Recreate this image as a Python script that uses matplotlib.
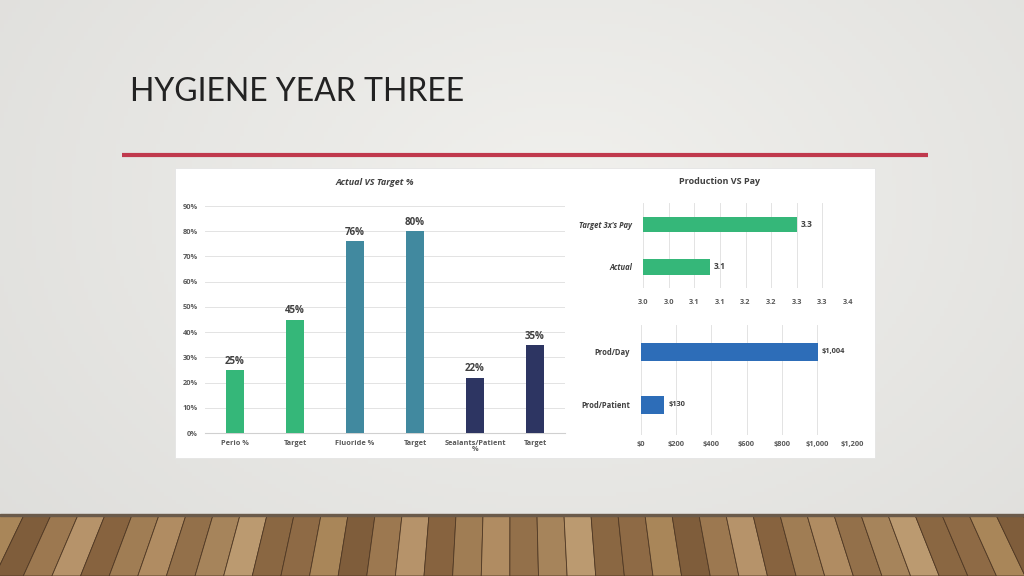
import numpy as np
import matplotlib.pyplot as plt
from matplotlib.patches import Rectangle, Polygon

plt.rcParams['font.family'] = ['Open Sans', 'DejaVu Sans']

# Data
pct_labels = ['Perio %', 'Target', 'Fluoride %', 'Target', 'Sealants/Patient\n%', 'Target']
pct_values = [0.25, 0.45, 0.76, 0.80, 0.22, 0.35]
pct_colors = ['#35b779', '#35b779', '#41899f', '#41899f', '#2d3562', '#2d3562']
pct_ticks = [0, 0.1, 0.2, 0.3, 0.4, 0.5, 0.6, 0.7, 0.8, 0.9]

pay_labels = ['Actual', "Target 3x's Pay"]
pay_values = [3.13, 3.30]
pay_text = ['3.1', '3.3']
pay_ticks = [3.0, 3.05, 3.1, 3.15, 3.2, 3.25, 3.3, 3.35, 3.4]
pay_tick_labels = ['3.0', '3.0', '3.1', '3.1', '3.2', '3.2', '3.3', '3.3', '3.4']

prod_labels = ['Prod/Patient', 'Prod/Day']
prod_values = [130, 1004]
prod_ticks = [0, 200, 400, 600, 800, 1000, 1200]

W, H = 1024, 576
fig = plt.figure(figsize=(10.24, 5.76), dpi=100)

# slide background
bg = fig.add_axes([0, 0, 1, 1])
bg.set_xlim(0, W)
bg.set_ylim(H, 0)
bg.axis('off')
yy, xx = np.mgrid[0:H:4, 0:W:4]
r = np.sqrt(((xx - 560) / 700.0) ** 2 + ((yy - 200) / 500.0) ** 2)
shade = np.clip(0.945 - 0.07 * r, 0.85, 0.95)
img = np.dstack([shade, shade * 0.998, shade * 0.985])
bg.imshow(img, extent=[0, W, H, 0], aspect='auto', zorder=0)

# wooden floor
floor_top = 515
bg.add_patch(Rectangle((0, floor_top), W, H - floor_top, color='#8f6b47', zorder=1))
plank_cols = ['#8e6a45', '#a98659', '#7f5d3b', '#9c7850', '#b6936a', '#87633f',
              '#a07d54', '#b08c62', '#93704a', '#a6845b', '#bb9a70', '#8a6742']
vy = -500.0
k = (H - vy) / (floor_top - vy)
edges = list(range(-30, W + 40, 27))
for i in range(len(edges) - 1):
    x0, x1 = edges[i], edges[i + 1]
    b0 = 512 + (x0 - 512) * k
    b1 = 512 + (x1 - 512) * k
    bg.add_patch(Polygon([(x0, floor_top), (x1, floor_top), (b1, H), (b0, H)],
                         closed=True, facecolor=plank_cols[i % len(plank_cols)],
                         edgecolor='#503925', linewidth=0.6, zorder=2))
bg.add_patch(Rectangle((0, floor_top - 1), W, 2, color='#6a5a4a', zorder=3))

# title + red rule
bg.text(130, 101, 'HYGIENE YEAR THREE', fontsize=23, color='#222222',
        family=['Lato', 'DejaVu Sans'], ha='left', va='baseline', zorder=5)
bg.plot([122, 928], [155, 155], color='#c0394d', linewidth=3, solid_capstyle='butt', zorder=5)

# white panel
bg.add_patch(Rectangle((175, 168), 700, 290, facecolor='white', edgecolor='#e4e4e4',
                       linewidth=0.6, zorder=4))

grid_c = '#e3e3e3'
tick_c = '#595959'
lab_c = '#404040'

# left chart
ax1 = fig.add_axes([205 / W, 1 - 433 / H, 360 / W, 227 / H])
x = np.arange(len(pct_values))
ax1.bar(x, pct_values, width=0.3, color=pct_colors, zorder=3)
for xi, v in zip(x, pct_values):
    ax1.text(xi, v + 0.012, f'{v:.0%}', ha='center', va='bottom',
             fontsize=7, fontweight='bold', color=lab_c)
ax1.set_xlim(-0.5, len(pct_values) - 0.5)
ax1.set_ylim(0, 0.9)
ax1.set_yticks(pct_ticks)
ax1.set_yticklabels([f'{t:.0%}' for t in pct_ticks])
ax1.set_xticks(x)
ax1.set_xticklabels(pct_labels, linespacing=0.9)
ax1.yaxis.grid(True, color=grid_c, linewidth=0.7, zorder=0)
for s in ['top', 'right', 'left']:
    ax1.spines[s].set_visible(False)
ax1.spines['bottom'].set_color('#d0d0d0')
ax1.tick_params(length=0, labelsize=5.3, labelcolor=tick_c, pad=5)
for t in ax1.get_xticklabels() + ax1.get_yticklabels():
    t.set_fontweight('bold')
ax1.set_facecolor('none')
fig.text(375 / W, 1 - 183 / H, 'Actual VS Target %', ha='center', va='center',
         fontsize=6.5, fontweight='bold', style='italic', color=lab_c)

# production vs pay
ax2 = fig.add_axes([643 / W, 1 - 288 / H, 205 / W, 85 / H])
y2 = np.arange(len(pay_values))
ax2.barh(y2, [v - pay_ticks[0] for v in pay_values], left=pay_ticks[0],
         height=0.36, color='#35b779', zorder=3)
for yi, v, t in zip(y2, pay_values, pay_text):
    ax2.text(v + 0.008, yi, t, ha='left', va='center', fontsize=6,
             fontweight='bold', color=lab_c)
ax2.set_xlim(pay_ticks[0], pay_ticks[-1])
ax2.set_ylim(-0.5, 1.52)
ax2.set_xticks(pay_ticks)
ax2.set_xticklabels(pay_tick_labels)
ax2.set_yticks(y2)
ax2.set_yticklabels(pay_labels)
ax2.xaxis.grid(True, color=grid_c, linewidth=0.7, zorder=0)
for s in ax2.spines.values():
    s.set_visible(False)
ax2.tick_params(length=0, labelsize=5.3, labelcolor=tick_c, pad=8)
ax2.tick_params(axis='y', pad=8, labelsize=5.5)
for t in ax2.get_xticklabels():
    t.set_fontweight('bold')
for t in ax2.get_yticklabels():
    t.set_fontweight('bold')
    t.set_style('italic')
    t.set_color(lab_c)
ax2.set_facecolor('none')
fig.text(720 / W, 1 - 182 / H, 'Production VS Pay', ha='center', va='center',
         fontsize=6.5, fontweight='bold', color=lab_c)

# production dollars
ax3 = fig.add_axes([641 / W, 1 - 435 / H, 211 / W, 110 / H])
y3 = np.arange(len(prod_values))
ax3.barh(y3, prod_values, height=0.34, color='#2d6db8', zorder=3)
for yi, v in zip(y3, prod_values):
    ax3.text(v + 25, yi, f'${v:,.0f}', ha='left', va='center', fontsize=5.3,
             fontweight='bold', color=lab_c)
ax3.set_xlim(prod_ticks[0], prod_ticks[-1])
ax3.set_ylim(-0.57, 1.51)
ax3.set_xticks(prod_ticks)
ax3.set_xticklabels([f'${t:,.0f}' for t in prod_ticks])
ax3.set_yticks(y3)
ax3.set_yticklabels(prod_labels)
ax3.xaxis.grid(True, color=grid_c, linewidth=0.7, zorder=0)
for s in ax3.spines.values():
    s.set_visible(False)
ax3.tick_params(length=0, labelsize=5.3, labelcolor=tick_c, pad=4)
ax3.tick_params(axis='y', pad=8, labelsize=5.5)
for t in ax3.get_xticklabels() + ax3.get_yticklabels():
    t.set_fontweight('bold')
for t in ax3.get_yticklabels():
    t.set_color(lab_c)
ax3.set_facecolor('none')

fig.savefig('out.png', dpi=100)
